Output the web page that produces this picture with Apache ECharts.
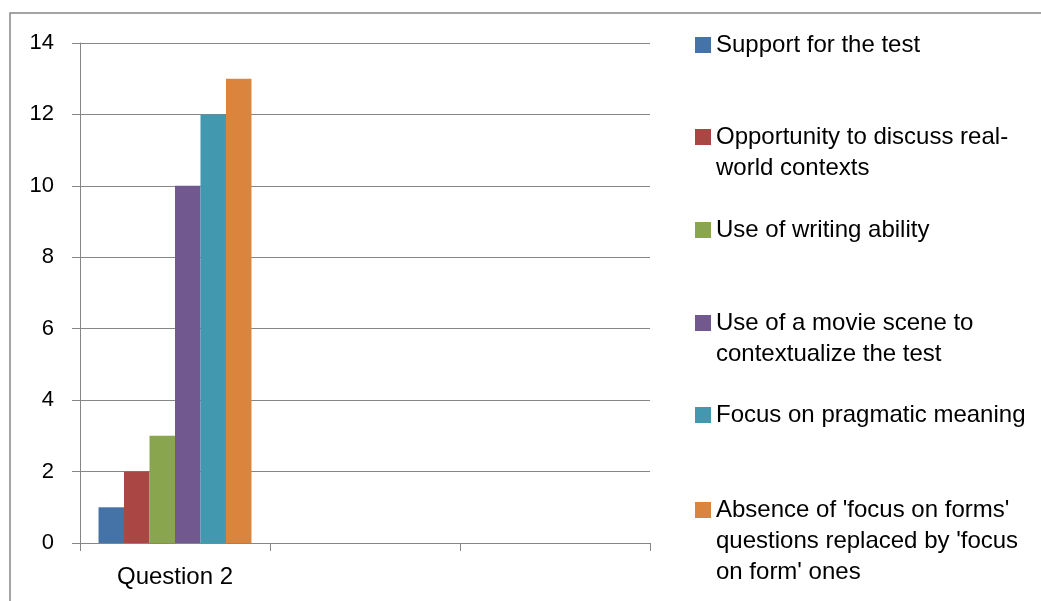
<!DOCTYPE html>
<html>
<head>
<meta charset="utf-8">
<script src="https://cdn.jsdelivr.net/npm/echarts@6/dist/echarts.min.js"></script>
<style>
  html, body {margin: 0; padding: 0; background: #fff;}
  #chart {width: 1041px; height: 601px;}
</style>
</head>
<body>
<div id="chart"></div>
<script>
const categories = ['Question 2', '', ''];
const seriesNames = [
  'Support for the test',
  'Opportunity to discuss real-world contexts',
  'Use of writing ability',
  'Use of a movie scene to contextualize the test',
  'Focus on pragmatic meaning',
  "Absence of 'focus on forms' questions replaced by 'focus on form' ones",
];
const legendLines = [
  ['Support for the test'],
  ['Opportunity to discuss real-', 'world contexts'],
  ['Use of writing ability'],
  ['Use of a movie scene to', 'contextualize the test'],
  ['Focus on pragmatic meaning'],
  ["Absence of 'focus on forms'", "questions replaced by 'focus", "on form' ones"],
];
const values = [1, 2, 3, 10, 12, 13];
const colors = ['#4572A7', '#AA4643', '#89A54E', '#71588F', '#4198AF', '#DB843D'];

const FONT = 'Liberation Sans';
const GRAY = '#868686';
const LINE_H = 31;
const legendCenters = [45, 137, 230, 323, 415, 510];

const chart = echarts.init(document.getElementById('chart'), null, {renderer: 'canvas'});

// one legend per item so the square sits beside the first line of wrapped text
const legends = seriesNames.map((name, i) => {
  const n = legendLines[i].length;
  const blank = new Array(n - 1).fill('');
  return {
    orient: 'vertical',
    left: 695,
    top: legendCenters[i] - (2 * n - 1) * LINE_H / 2,
    padding: 0,
    itemWidth: 16,
    itemHeight: 16,
    icon: 'rect',
    data: [name],
    formatter: () => blank.concat(legendLines[i]).join('\n'),
    textStyle: {
      fontFamily: FONT,
      fontSize: 24,
      lineHeight: LINE_H,
      color: '#000',
    },
  };
});

chart.setOption({
  backgroundColor: '#fff',
  animation: false,
  color: colors,
  graphic: [{
    type: 'rect',
    shape: {x: 10, y: 13, width: 1100, height: 700},
    style: {fill: 'none', stroke: GRAY, lineWidth: 1.5},
    silent: true,
  }],
  grid: {left: 80, right: 391, top: 43, bottom: 58, containLabel: false},
  legend: legends,
  xAxis: {
    type: 'category',
    data: categories,
    axisLine: {lineStyle: {color: GRAY, width: 1}},
    axisTick: {show: true, length: 8, lineStyle: {color: GRAY}},
    axisLabel: {fontFamily: FONT, fontSize: 24, color: '#000', margin: 22},
  },
  yAxis: {
    type: 'value',
    min: 0,
    max: 14,
    interval: 2,
    axisLine: {show: true, lineStyle: {color: GRAY, width: 1}},
    axisTick: {show: true, length: 8, lineStyle: {color: GRAY}},
    axisLabel: {fontFamily: FONT, fontSize: 22, color: '#000', margin: 26},
    splitLine: {lineStyle: {color: GRAY, width: 1}},
  },
  series: seriesNames.map((name, i) => ({
    name: name,
    type: 'bar',
    data: [values[i]],
    barGap: '0%',
    barCategoryGap: '19.5%',
  })),
});
</script>
</body>
</html>
